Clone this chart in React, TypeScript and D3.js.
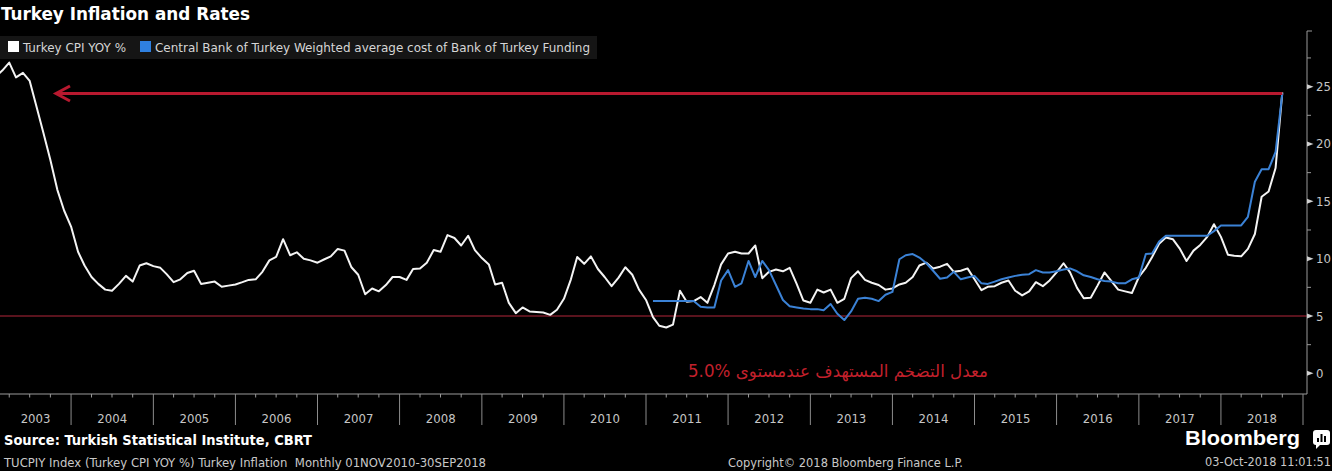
import React, { useEffect } from "react";
import * as d3 from "d3";

const W = 1332;
const H = 471;

// Turkey CPI YoY %, monthly from Jan 2003 (value plotted at month end)
const cpiStart = new Date(2003, 0, 1);
const cpi = [
  25.9, 26.4, 27.1, 25.8, 26.2, 25.5, 23.2, 20.9, 18.6, 16.0, 14.2, 12.8, // 2003
  10.6, 9.4, 8.4, 7.8, 7.3, 7.2, 7.8, 8.5, 8.0, 9.4, 9.6, 9.35, // 2004
  9.2, 8.65, 7.95, 8.2, 8.75, 8.95, 7.8, 7.9, 8.0, 7.55, 7.65, 7.75, // 2005
  7.95, 8.15, 8.2, 8.85, 9.85, 10.15, 11.7, 10.3, 10.55, 10.0, 9.85, 9.65, // 2006
  9.95, 10.2, 10.85, 10.7, 9.25, 8.6, 6.9, 7.4, 7.15, 7.7, 8.4, 8.4, // 2007
  8.15, 9.1, 9.15, 9.65, 10.75, 10.6, 12.05, 11.8, 11.15, 12.0, 10.75, 10.05, // 2008
  9.5, 7.75, 7.9, 6.15, 5.25, 5.75, 5.4, 5.35, 5.3, 5.1, 5.55, 6.5, // 2009
  8.2, 10.15, 9.55, 10.2, 9.1, 8.4, 7.6, 8.35, 9.25, 8.6, 7.3, 6.4, // 2010
  4.9, 4.15, 4.0, 4.25, 7.2, 6.25, 6.3, 6.65, 6.15, 7.7, 9.5, 10.45, // 2011
  10.6, 10.45, 10.45, 11.15, 8.3, 8.85, 9.05, 8.9, 9.2, 7.8, 6.35, 6.15, // 2012
  7.3, 7.05, 7.3, 6.15, 6.5, 8.3, 8.9, 8.15, 7.9, 7.7, 7.3, 7.4, // 2013
  7.75, 7.9, 8.4, 9.4, 9.65, 9.15, 9.3, 9.55, 8.85, 8.95, 9.15, 8.2, // 2014
  7.25, 7.55, 7.6, 7.9, 8.1, 7.2, 6.8, 7.15, 7.95, 7.6, 8.1, 8.8, // 2015
  9.6, 8.8, 7.45, 6.55, 6.6, 7.65, 8.8, 8.05, 7.3, 7.15, 7.0, 8.4, // 2016
  9.2, 10.15, 11.3, 11.85, 11.7, 10.9, 9.8, 10.7, 11.2, 11.9, 13.0, 11.9, // 2017
  10.35, 10.25, 10.2, 10.85, 12.15, 15.4, 15.85, 17.9, 24.5, // 2018
];

// CBRT weighted average cost of funding %, monthly from Jan 2011
const fundStart = new Date(2011, 0, 1);
const funding = [
  6.3, 6.3, 6.3, 6.3, 6.3, 6.3, 6.3, 5.8, 5.75, 5.75, 8.1, 9.0, // 2011
  7.55, 7.85, 9.8, 8.4, 9.8, 9.0, 7.7, 6.4, 5.85, 5.75, 5.65, 5.6, // 2012
  5.6, 5.5, 6.05, 5.2, 4.65, 5.4, 6.5, 6.6, 6.5, 6.3, 6.85, 7.1, // 2013
  9.95, 10.3, 10.4, 10.1, 9.6, 8.95, 8.25, 8.35, 8.85, 8.2, 8.35, 8.5, // 2014
  7.85, 7.8, 8.0, 8.2, 8.35, 8.5, 8.6, 8.65, 9.0, 8.8, 8.8, 8.9, // 2015
  9.05, 9.15, 8.9, 8.55, 8.4, 8.2, 8.05, 8.0, 7.85, 7.85, 8.2, 8.35, // 2016
  10.4, 10.45, 11.5, 12.0, 12.0, 12.0, 12.0, 12.0, 12.0, 12.0, 12.4, 12.9, // 2017
  12.9, 12.9, 12.9, 13.65, 16.7, 17.8, 17.8, 19.3, 24.4, // 2018
];

const yMajor = [0, 5, 10, 15, 20, 25];
const yMinor = [2.5, 7.5, 12.5, 17.5, 22.5, 27.5];
const target = 5;
const arrowLevel = 24.4;
const arrowFrom = new Date(2003, 9, 26);

const legendItems = [
  { label: "Turkey CPI YOY %", color: "#ffffff" },
  { label: "Central Bank of Turkey Weighted average cost of Bank of Turkey Funding", color: "#2f80e0" },
];

const COND = "'DejaVu Sans Condensed', 'DejaVu Sans', sans-serif";

type Pt = { d: Date; v: number };

export default function App() {
  useEffect(() => {
    document.body.style.margin = "0";
    document.body.style.background = "#000";
  }, []);

  const left = 0;
  const right = 1307;
  const top = 31;
  const bottom = 394;

  const x = d3
    .scaleTime()
    .domain([new Date(2003, 0, 1), new Date(2019, 0, 1)])
    .range([-11, 1303]);
  const y = d3.scaleLinear().domain([-1.8, 29.85]).range([bottom, top]);

  const cpiPts: Pt[] = cpi.map((v, i) => ({ d: d3.timeMonth.offset(cpiStart, i + 1), v }));
  const fundPts: Pt[] = funding.map((v, i) => ({ d: d3.timeMonth.offset(fundStart, i + 1), v }));
  const line = d3
    .line<Pt>()
    .x((p) => x(p.d))
    .y((p) => y(p.v));

  const yearStarts = d3.timeYear.range(new Date(2003, 0, 1), new Date(2019, 0, 2));
  const quarters = d3.timeMonth
    .every(3)!
    .range(new Date(2003, 0, 1), new Date(2019, 0, 1))
    .filter((d) => d.getMonth() !== 0 && x(d) > left);

  const lastPt = cpiPts[cpiPts.length - 1];
  const ay = y(arrowLevel);
  const ax0 = x(arrowFrom);
  const ax1 = x(lastPt.d);
  const red = "#b8192f";

  return (
    <svg width={W} height={H} style={{ position: "absolute", left: 0, top: 0, background: "#000" }}>
      <defs>
        <clipPath id="plot">
          <rect x={left} y={top} width={right - left} height={bottom - top} />
        </clipPath>
      </defs>
      <rect width={W} height={H} fill="#000" />

      {/* title */}
      <text
        x={1}
        y={20}
        fill="#fff"
        fontFamily={COND}
        fontStretch="condensed"
        fontWeight="bold"
        fontSize={18}
        textLength={249}
        lengthAdjust="spacingAndGlyphs"
      >
        Turkey Inflation and Rates
      </text>

      {/* legend */}
      <rect x={0} y={36} width={597} height={23} fill="#151515" />
      <rect x={8} y={41} width={11} height={11} fill={legendItems[0].color} />
      <text
        x={23}
        y={52}
        fill="#d6d6d6"
        fontFamily={COND}
        fontStretch="condensed"
        fontSize={13}
        textLength={103}
        lengthAdjust="spacingAndGlyphs"
      >
        {legendItems[0].label}
      </text>
      <rect x={140} y={41} width={11} height={11} fill={legendItems[1].color} />
      <text
        x={155}
        y={52}
        fill="#d6d6d6"
        fontFamily={COND}
        fontStretch="condensed"
        fontSize={13}
        textLength={435}
        lengthAdjust="spacingAndGlyphs"
      >
        {legendItems[1].label}
      </text>

      {/* target line */}
      <line x1={left} x2={right} y1={y(target)} y2={y(target)} stroke="#b3263a" strokeWidth={1} />

      <g clipPath="url(#plot)">
        <path d={line(cpiPts) ?? ""} fill="none" stroke="#f4f4f4" strokeWidth={2} strokeLinejoin="round" />
        <path d={line(fundPts) ?? ""} fill="none" stroke="#3b82d6" strokeWidth={2} strokeLinejoin="round" />
      </g>

      {/* arrow annotation */}
      <line x1={ax0 + 1} x2={ax1} y1={ay} y2={ay} stroke={red} strokeWidth={3} />
      <path
        d={`M${ax0 + 14},${ay - 7.5}L${ax0},${ay}L${ax0 + 14},${ay + 7.5}`}
        fill="none"
        stroke={red}
        strokeWidth={3}
      />
      <text
        x={838}
        y={377}
        fill="#c3202c"
        fontFamily="'DejaVu Sans', sans-serif"
        fontSize={17}
        textAnchor="middle"
        direction="rtl"
        style={{ direction: "rtl", unicodeBidi: "embed" }}
        textLength={300}
        lengthAdjust="spacingAndGlyphs"
      >
        {"معدل التضخم المستهدف عندمستوى \u202A5.0%\u202C"}
      </text>

      {/* x axis */}
      <line x1={left} x2={right} y1={bottom} y2={bottom} stroke="#9a9a9a" strokeWidth={1} />
      {quarters.map((d, i) => (
        <line key={"q" + i} x1={x(d)} x2={x(d)} y1={bottom} y2={bottom + 3.5} stroke="#9a9a9a" />
      ))}
      {yearStarts
        .filter((d) => x(d) > left)
        .map((d, i) => (
          <line key={"s" + i} x1={x(d)} x2={x(d)} y1={bottom} y2={425} stroke="#8c8c8c" />
        ))}
      {yearStarts.slice(0, -1).map((d, i) => {
        const a = Math.max(x(d), left);
        const b = Math.min(x(yearStarts[i + 1]), right);
        return (
          <text
            key={"yl" + i}
            x={(a + b) / 2}
            y={423}
            fill="#c6c6c6"
            fontFamily={COND}
            fontStretch="condensed"
            fontSize={13}
            textAnchor="middle"
          >
            {d.getFullYear()}
          </text>
        );
      })}

      {/* y axis */}
      <line x1={right} x2={right} y1={top} y2={bottom} stroke="#9a9a9a" strokeWidth={1} />
      <line x1={right} x2={right + 5} y1={top} y2={top} stroke="#9a9a9a" />
      {yMinor.map((v) => (
        <line key={"ym" + v} x1={right} x2={right + 4} y1={y(v)} y2={y(v)} stroke="#9a9a9a" />
      ))}
      {yMajor.map((v) => (
        <g key={"yt" + v}>
          <path d={`M${right},${y(v) - 2.5}L${right + 6.5},${y(v)}L${right},${y(v) + 2.5}Z`} fill="#d0d0d0" />
          <text x={right + 9} y={y(v) + 4.5} fill="#c6c6c6" fontFamily={COND} fontStretch="condensed" fontSize={13}>
            {v}
          </text>
        </g>
      ))}

      {/* footer */}
      <text
        x={4}
        y={445}
        fill="#fff"
        fontFamily={COND}
        fontStretch="condensed"
        fontWeight="bold"
        fontSize={13.5}
        textLength={308}
        lengthAdjust="spacingAndGlyphs"
      >
        Source: Turkish Statistical Institute, CBRT
      </text>
      <text
        x={4}
        y={467}
        fill="#c8c8c8"
        fontFamily={COND}
        fontStretch="condensed"
        fontSize={12}
        textLength={482}
        lengthAdjust="spacingAndGlyphs"
      >
        TUCPIY Index (Turkey CPI YOY %) Turkey Inflation{"\u00a0"} Monthly 01NOV2010-30SEP2018
      </text>
      <text
        x={728}
        y={467}
        fill="#c8c8c8"
        fontFamily={COND}
        fontStretch="condensed"
        fontSize={12}
        textLength={235}
        lengthAdjust="spacingAndGlyphs"
      >
        Copyright© 2018 Bloomberg Finance L.P.
      </text>
      <text
        x={1205}
        y={466}
        fill="#c8c8c8"
        fontFamily={COND}
        fontStretch="condensed"
        fontSize={12}
        textLength={126}
        lengthAdjust="spacingAndGlyphs"
      >
        03-Oct-2018 11:01:51
      </text>
      <text
        x={1185}
        y={445}
        fill="#fff"
        fontFamily="'Liberation Sans', Arial, sans-serif"
        fontWeight="bold"
        fontSize={21}
        textLength={115}
        lengthAdjust="spacingAndGlyphs"
      >
        Bloomberg
      </text>
      <g>
        <rect x={1313} y={430} width={17} height={15} rx={3} fill="#fff" />
        <path d="M1316,444 L1316,449 L1321,444 Z" fill="#fff" />
        <rect x={1317} y={438} width={2} height={4} fill="#000" />
        <rect x={1320.5} y={434} width={2} height={8} fill="#000" />
        <rect x={1324} y={436} width={2} height={6} fill="#000" />
      </g>
    </svg>
  );
}
